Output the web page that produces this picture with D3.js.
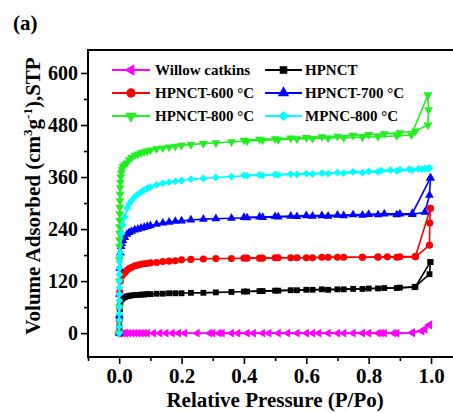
<!DOCTYPE html>
<html>
<head>
<meta charset="utf-8">
<script src="https://cdn.jsdelivr.net/npm/d3@7"></script>
<style>
  html, body { margin: 0; padding: 0; background: #fff; }
  svg { display: block; }
  text { font-family: "Liberation Serif", "Times New Roman", serif; font-weight: bold; fill: #000; }
</style>
</head>
<body>
<svg id="chart" width="453" height="413"></svg>
<script>
// N2 adsorption–desorption isotherms: [relative pressure P/Po, volume adsorbed cm3/g STP]
const willowAds = [[0,0],[0.004,0],[0.012,0],[0.02,0],[0.03,0],[0.04,0],[0.05,0],[0.06,0],[0.07,0],[0.08,0],[0.09,0],[0.11,0],[0.13,0],[0.15,0],[0.17,0],[0.19,0],[0.21,0],[0.25,0],[0.29,0],[0.32,0],[0.36,0],[0.41,0],[0.46,0],[0.51,0],[0.57,0],[0.62,0],[0.67,0],[0.72,0],[0.78,0],[0.83,0],[0.85,0],[0.89,0],[0.94,1],[0.98,9],[0.995,19]];
const willowDes = [[0.995,19],[0.97,5],[0.94,1],[0.88,0],[0.84,0],[0.8,0],[0.75,0],[0.7,0],[0.64,0],[0.6,0],[0.54,0],[0.48,0],[0.43,0],[0.38,0],[0.33,0],[0.3,0]];

const hpnctAds = [[0,0],[0.0005,15],[0.001,35],[0.002,55],[0.004,70],[0.008,78],[0.012,81],[0.018,83],[0.025,85],[0.032,86],[0.04,87],[0.05,88],[0.06,88],[0.07,89],[0.08,89],[0.09,90],[0.1,90],[0.12,91],[0.14,91],[0.16,92],[0.18,92],[0.2,92],[0.23,93],[0.27,93],[0.31,94],[0.36,95],[0.41,96],[0.46,97],[0.51,98],[0.57,99],[0.62,100],[0.67,100],[0.72,101],[0.78,102],[0.83,103],[0.89,104],[0.947,106],[0.995,136],[0.998,164]];
const hpnctDes = [[0.998,164],[0.95,107],[0.9,105],[0.85,104],[0.8,103],[0.75,102],[0.7,101],[0.65,101],[0.6,100],[0.55,99],[0.5,98],[0.45,97],[0.4,96]];

const hp600Ads = [[0,0],[0.0005,30],[0.001,60],[0.002,95],[0.004,120],[0.008,132],[0.012,136],[0.018,140],[0.025,145],[0.032,149],[0.04,152],[0.05,155],[0.06,157],[0.07,159],[0.08,160],[0.09,161],[0.1,162],[0.12,163],[0.14,165],[0.16,166],[0.18,167],[0.2,169],[0.23,170],[0.27,171],[0.31,172],[0.36,172],[0.41,173],[0.46,173],[0.51,174],[0.57,174],[0.62,174],[0.67,175],[0.72,175],[0.78,175],[0.83,175],[0.89,175],[0.95,176],[0.995,203],[0.996,254],[0.998,288]];
const hp600Des = [[0.998,288],[0.95,177],[0.9,176],[0.86,176],[0.83,176],[0.78,175],[0.7,175],[0.65,175],[0.6,174],[0.55,174],[0.5,174],[0.45,173],[0.4,173]];

const hp700Ads = [[0,0],[0.0005,40],[0.001,90],[0.002,150],[0.004,185],[0.006,200],[0.008,207],[0.012,214],[0.018,221],[0.025,228],[0.032,232],[0.04,235],[0.05,238],[0.06,240],[0.07,242],[0.08,244],[0.09,246],[0.1,248],[0.12,251],[0.14,254],[0.16,256],[0.18,258],[0.2,259],[0.23,261],[0.27,263],[0.31,264],[0.36,265],[0.41,266],[0.46,267],[0.51,268],[0.57,269],[0.62,270],[0.67,270],[0.72,271],[0.78,272],[0.83,273],[0.89,273],[0.94,274],[0.98,279],[0.995,318],[0.998,358]];
const hp700Des = [[0.998,358],[0.94,276],[0.9,275],[0.85,275],[0.8,274],[0.75,273],[0.7,272],[0.65,271],[0.6,271],[0.55,270],[0.5,269],[0.45,268],[0.4,267]];

const hp800Ads = [[0,0],[0.0002,60],[0.0004,120],[0.0006,170],[0.0008,200],[0.001,215],[0.0012,230],[0.0014,245],[0.0016,260],[0.0018,275],[0.002,290],[0.0025,305],[0.003,320],[0.0035,335],[0.004,348],[0.005,360],[0.007,370],[0.009,378],[0.012,384],[0.018,389],[0.025,393],[0.032,400],[0.04,405],[0.05,410],[0.06,413],[0.07,416],[0.08,418],[0.09,420],[0.1,422],[0.12,425],[0.14,427],[0.16,429],[0.18,431],[0.2,433],[0.23,435],[0.27,437],[0.31,439],[0.36,441],[0.41,443],[0.46,445],[0.51,446],[0.57,448],[0.62,449],[0.67,450],[0.72,451],[0.78,452],[0.83,453],[0.89,455],[0.937,457],[0.99,549]];
const hp800Des = [[0.99,549],[0.992,515],[0.99,480],[0.95,466],[0.9,462],[0.85,460],[0.8,458],[0.75,456],[0.7,454],[0.65,453],[0.6,451],[0.55,450],[0.5,448],[0.45,447],[0.4,445]];

const mpncAds = [[0,0],[0,15],[0.0002,30],[0.0003,45],[0.0004,60],[0.0005,75],[0.0006,90],[0.0007,105],[0.0008,120],[0.0009,135],[0.001,150],[0.0015,165],[0.002,178],[0.003,186],[0.008,230],[0.012,250],[0.018,268],[0.025,288],[0.032,298],[0.04,306],[0.05,314],[0.06,320],[0.07,325],[0.08,330],[0.09,334],[0.1,337],[0.12,342],[0.14,346],[0.16,348],[0.18,350],[0.2,352],[0.23,355],[0.27,357],[0.31,359],[0.36,361],[0.41,363],[0.46,364],[0.51,365],[0.57,366],[0.62,367],[0.67,368],[0.72,369],[0.78,370],[0.83,372],[0.89,374],[0.94,376],[0.97,378],[0.99,379],[0.995,381]];
const mpncDes = [[0.995,381],[0.98,380],[0.96,379],[0.93,378],[0.9,377],[0.87,376],[0.84,375],[0.8,373],[0.75,372],[0.7,370],[0.65,369],[0.6,368],[0.55,367],[0.5,366],[0.45,365],[0.4,364]];

const seriesNames = ["Willow catkins", "HPNCT", "HPNCT-600 °C", "HPNCT-700 °C", "HPNCT-800 °C", "MPNC-800 °C"];
const seriesColors = ["#ff00ff", "#000000", "#ff0000", "#0000ff", "#22ee22", "#00ffff"];
const seriesShapes = ["triLeft", "square", "circle", "triUp", "triDown", "diamond"];
const seriesData = [
  [willowAds, willowDes],
  [hpnctAds, hpnctDes],
  [hp600Ads, hp600Des],
  [hp700Ads, hp700Des],
  [hp800Ads, hp800Des],
  [mpncAds, mpncDes]
];

const xMajorTicks = [0, 0.2, 0.4, 0.6, 0.8, 1.0];
const xMinorTicks = [-0.1, 0.1, 0.3, 0.5, 0.7, 0.9];
const yMajorTicks = [0, 120, 240, 360, 480, 600];
const yMinorTicks = [60, 180, 300, 420, 540];

const svg = d3.select("#chart");
const plotLeft = 88, plotTop = 50, plotBottom = 357, plotRight = 456;

const x = d3.scaleLinear().domain([-0.1, 1.08]).range([plotLeft, plotRight]);
const y = d3.scaleLinear().domain([-55, 653]).range([plotBottom, plotTop]);

// Marker shapes
function symbolPath(shape) {
  switch (shape) {
    case "square": return { path: d3.symbol(d3.symbolSquare, 34)(), rot: 0 };
    case "circle": return { path: d3.symbol(d3.symbolCircle, 40)(), rot: 0 };
    case "diamond": return { path: d3.symbol(d3.symbolSquare, 30)(), rot: 45 };
    case "triUp": return { path: d3.symbol(d3.symbolTriangle, 34)(), rot: 0 };
    case "triDown": return { path: d3.symbol(d3.symbolTriangle, 34)(), rot: 180 };
    case "triLeft": return { path: d3.symbol(d3.symbolTriangle, 34)(), rot: -90 };
  }
}

const line = d3.line().x(d => x(d[0])).y(d => y(d[1]));

// Isotherms
const plot = svg.append("g");
seriesData.forEach((branches, i) => {
  const g = plot.append("g");
  const sym = symbolPath(seriesShapes[i]);
  branches.forEach(pts => {
    g.append("path").datum(pts)
      .attr("d", line)
      .attr("fill", "none")
      .attr("stroke", seriesColors[i])
      .attr("stroke-width", 1.6);
    g.selectAll(null).data(pts).enter().append("path")
      .attr("d", sym.path)
      .attr("transform", d => `translate(${x(d[0])},${y(d[1])}) rotate(${sym.rot})`)
      .attr("fill", seriesColors[i]);
  });
});

// Frame
svg.append("path")
  .attr("d", `M${plotRight},${plotTop}H${plotLeft}V${plotBottom}H${plotRight}`)
  .attr("fill", "none").attr("stroke", "#000").attr("stroke-width", 2);

// Left axis
const yAxis = d3.axisLeft(y).tickValues(yMajorTicks).tickSize(7).tickPadding(3).tickFormat(d3.format("d"));
const gy = svg.append("g").attr("transform", `translate(${plotLeft},0)`).call(yAxis);
gy.select(".domain").remove();
gy.selectAll(".tick line").attr("stroke-width", 1.6);
gy.selectAll(".tick text").style("font-size", "20px").style("font-family", "'Liberation Serif', serif").style("font-weight", "bold");
const gyMinor = svg.append("g").attr("transform", `translate(${plotLeft},0)`)
  .call(d3.axisLeft(y).tickValues(yMinorTicks).tickSize(4).tickFormat(""));
gyMinor.select(".domain").remove();
gyMinor.selectAll(".tick line").attr("stroke-width", 1.6);

// Bottom axis
const xAxis = d3.axisBottom(x).tickValues(xMajorTicks).tickSize(7).tickPadding(4).tickFormat(d3.format(".1f"));
const gx = svg.append("g").attr("transform", `translate(0,${plotBottom})`).call(xAxis);
gx.select(".domain").remove();
gx.selectAll(".tick line").attr("stroke-width", 1.6);
gx.selectAll(".tick text").style("font-size", "21px").style("font-family", "'Liberation Serif', serif").style("font-weight", "bold");
const gxMinor = svg.append("g").attr("transform", `translate(0,${plotBottom})`)
  .call(d3.axisBottom(x).tickValues(xMinorTicks).tickSize(4).tickFormat(""));
gxMinor.select(".domain").remove();
gxMinor.selectAll(".tick line").attr("stroke-width", 1.6);

// Axis titles
svg.append("text")
  .attr("x", (x(0) + x(1)) / 2).attr("y", 407)
  .attr("text-anchor", "middle")
  .style("font-size", "21px")
  .text("Relative Pressure (P/Po)");

const yTitle = svg.append("text")
  .attr("transform", "translate(40,196) rotate(-90)")
  .attr("text-anchor", "middle")
  .style("font-size", "21px");
yTitle.append("tspan").text("Volume Adsorbed (cm");
yTitle.append("tspan").attr("dy", -8).style("font-size", "13px").text("3");
yTitle.append("tspan").attr("dy", 8).text("g");
yTitle.append("tspan").attr("dy", -8).style("font-size", "13px").text("-1");
yTitle.append("tspan").attr("dy", 8).text("),STP");

// Panel label
svg.append("text").attr("x", 13).attr("y", 30).style("font-size", "21px").text("(a)");

// Legend
const legendRows = [70, 93, 116];
const legendCols = [{ x1: 112, x2: 150, tx: 155 }, { x1: 265, x2: 302, tx: 305 }];
seriesNames.forEach((name, i) => {
  const col = legendCols[i % 2];
  const ry = legendRows[Math.floor(i / 2)];
  const g = svg.append("g");
  g.append("line").attr("x1", col.x1).attr("x2", col.x2).attr("y1", ry).attr("y2", ry)
    .attr("stroke", seriesColors[i]).attr("stroke-width", 2);
  const sym = symbolPath(seriesShapes[i]);
  g.append("path").attr("d", sym.path)
    .attr("transform", `translate(${(col.x1 + col.x2) / 2},${ry}) rotate(${sym.rot}) scale(1.3)`)
    .attr("fill", seriesColors[i]);
  g.append("text").attr("x", col.tx).attr("y", ry + 5).style("font-size", "15px").text(name);
});
</script>
</body>
</html>
